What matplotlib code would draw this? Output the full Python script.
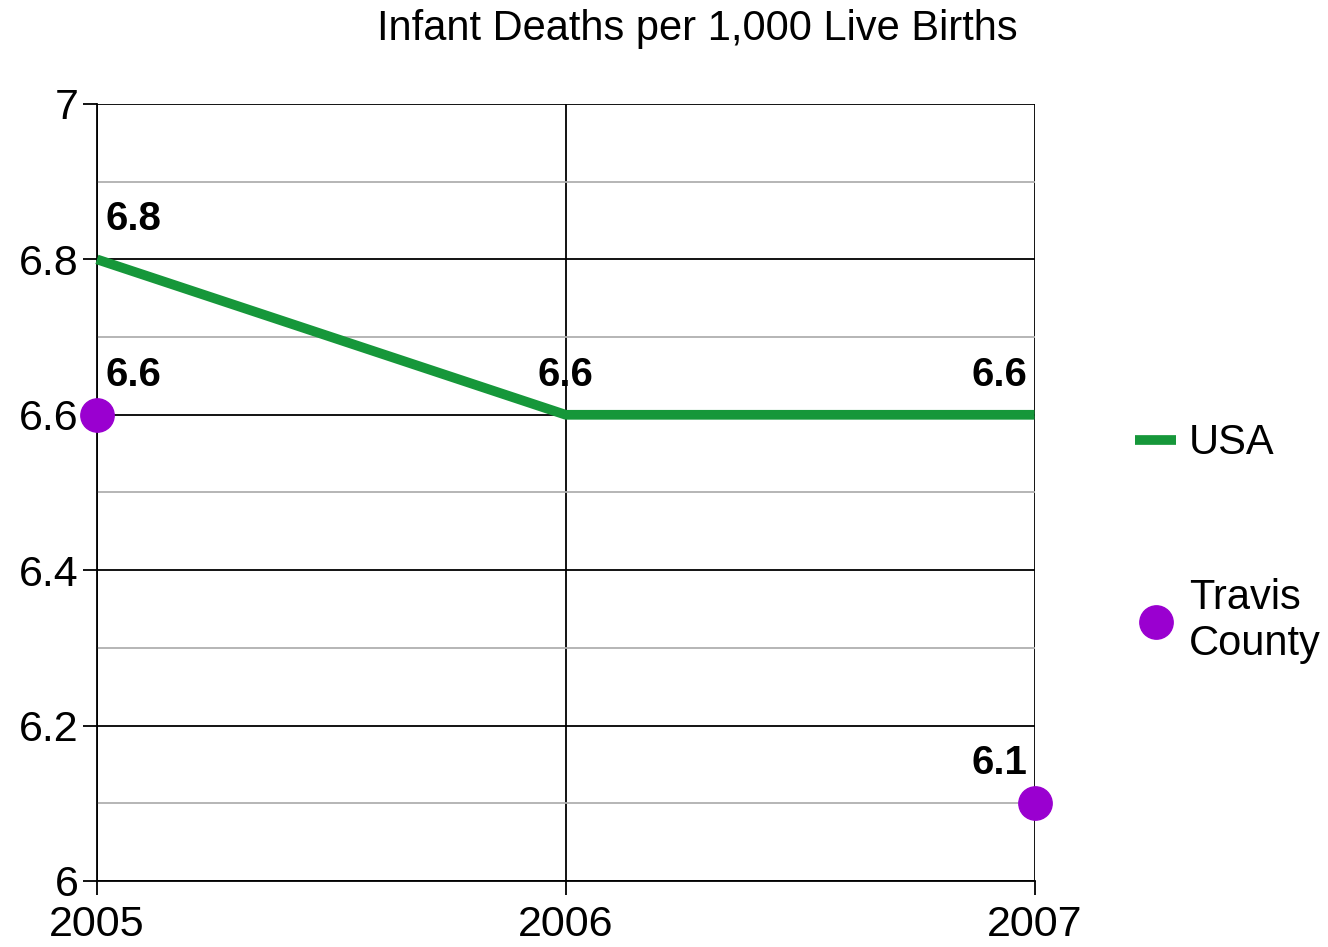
import matplotlib.pyplot as plt
from matplotlib.ticker import MultipleLocator

plt.rcParams['font.family'] = ['Liberation Sans', 'DejaVu Sans']

years = [2005, 2006, 2007]
usa = [6.8, 6.6, 6.6]
travis_years = [2005, 2007]
travis = [6.6, 6.1]
y_ticks = [6.0, 6.2, 6.4, 6.6, 6.8, 7.0]
y_labels = ["6", "6.2", "6.4", "6.6", "6.8", "7"]

green = "#16973a"
purple = "#9a00d0"

fig = plt.figure(figsize=(13.28, 9.47), dpi=100)
ax = fig.add_axes([0.073, 0.0697, 0.706, 0.8205])

ax.plot(years, usa, color=green, lw=7, solid_capstyle="butt", label="USA", zorder=3, clip_on=False)
ax.plot(travis_years, travis, ls="none", marker="o", ms=24, color=purple, label="Travis\nCounty",
        zorder=4, clip_on=False)

ax.set_xlim(2005, 2007)
ax.set_ylim(6, 7)
ax.set_xticks(years)
ax.set_yticks(y_ticks)
ax.set_yticklabels(y_labels)
ax.yaxis.set_minor_locator(MultipleLocator(0.1))
ax.grid(which="major", color="black", lw=1.3)
ax.grid(which="minor", axis="y", color="#b0b0b0", lw=1.3)
ax.tick_params(which="major", length=10, width=1.3, labelsize=31)
ax.tick_params(axis="x", pad=7)
ax.tick_params(axis="y", pad=3)
ax.tick_params(which="minor", length=0)
for s in ["right", "top"]:
    ax.spines[s].set_visible(False)
for s in ["left", "bottom"]:
    ax.spines[s].set_linewidth(1.3)
ax.set_axisbelow(True)

# data labels
lab_kw = dict(textcoords="offset points", fontsize=29, fontweight="bold", va="center")
ax.annotate(f"{usa[0]}", (years[0], usa[0]), xytext=(6, 29), ha="left", **lab_kw)
ax.annotate(f"{usa[1]}", (years[1], usa[1]), xytext=(0, 29), ha="center", **lab_kw)
ax.annotate(f"{usa[2]}", (years[2], usa[2]), xytext=(-5, 29), ha="right", **lab_kw)
ax.annotate(f"{travis[0]}", (travis_years[0], travis[0]), xytext=(6, 29), ha="left", **lab_kw)
ax.annotate(f"{travis[1]}", (travis_years[1], travis[1]), xytext=(-5, 29), ha="right", **lab_kw)

fig.text(0.525, 0.969, "Infant Deaths per 1,000 Live Births", ha="center", va="center", fontsize=30)

ax.legend(loc="upper left", bbox_to_anchor=(1.107, 0.589), frameon=False, fontsize=30,
          borderaxespad=0, borderpad=0,
          handlelength=1.0, handletextpad=0.3, labelspacing=2.75, markerscale=1.0)

fig.savefig("out.png", dpi=100)
